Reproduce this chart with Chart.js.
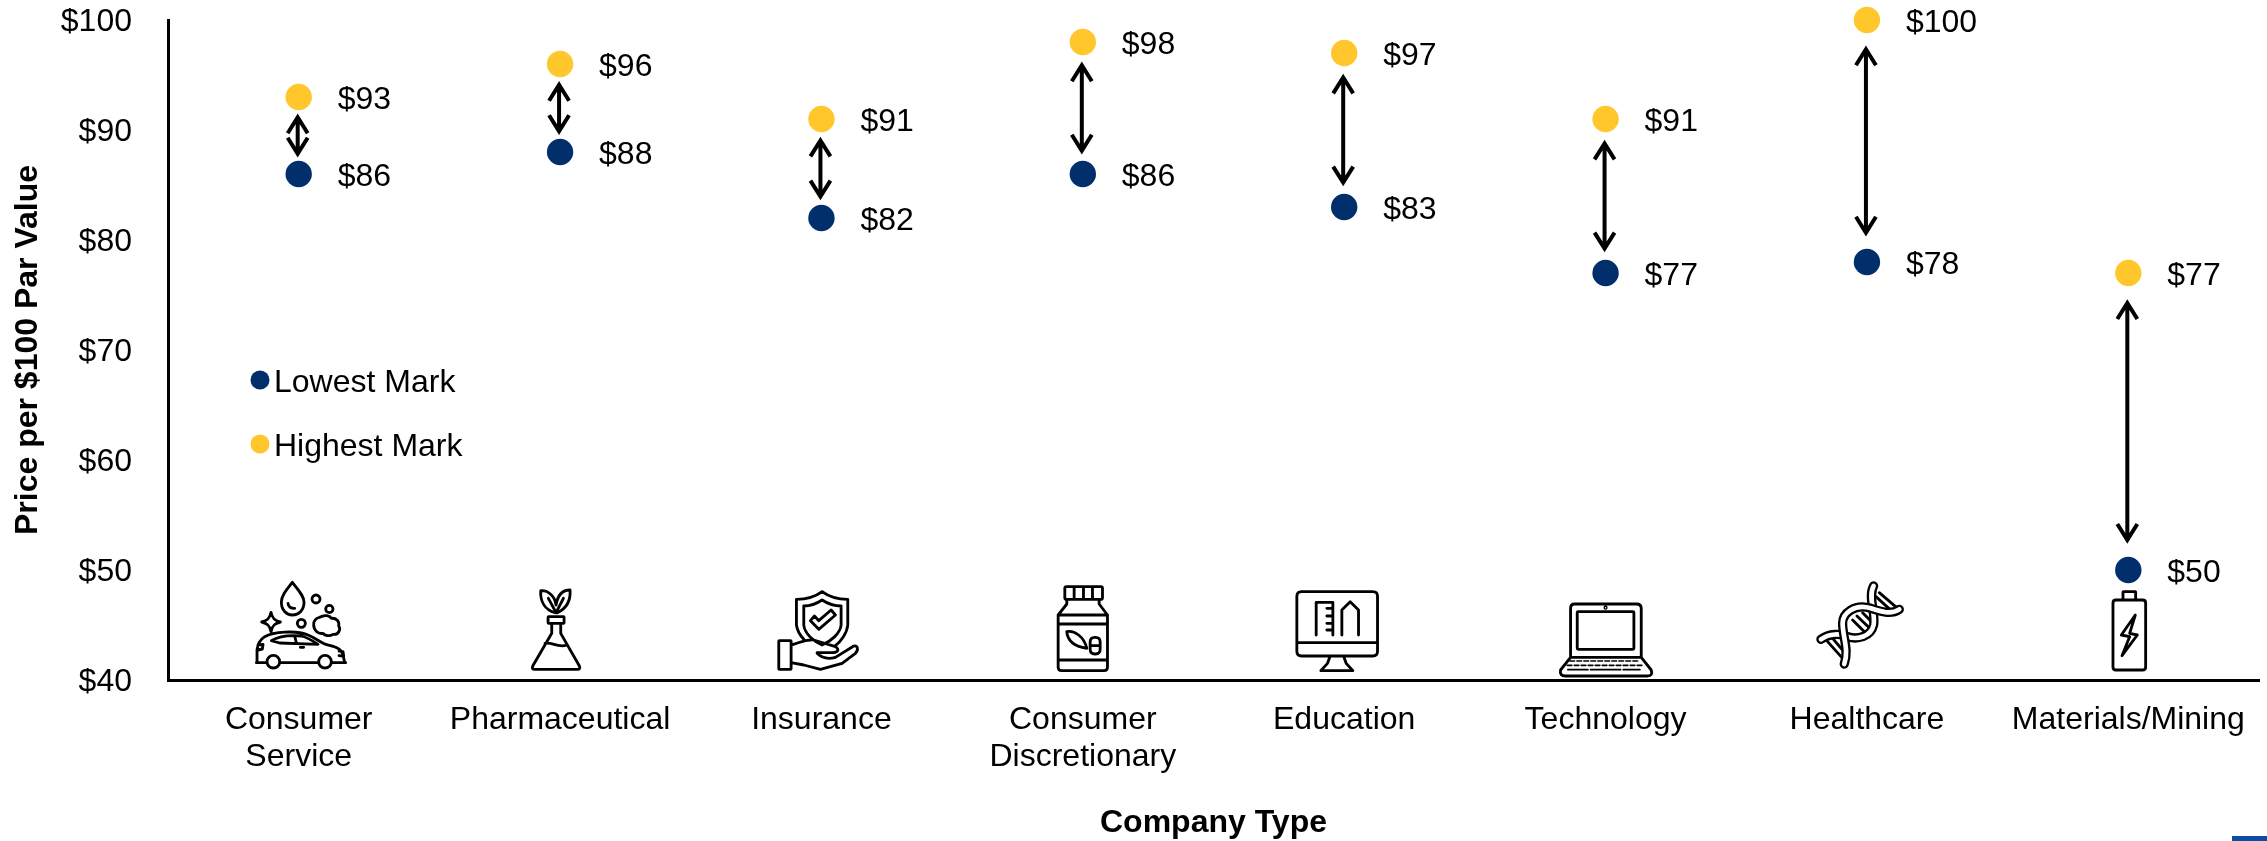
<!DOCTYPE html>
<html lang="en">
<head>
  <meta charset="UTF-8" />
  <title>Price per $100 Par Value by Company Type</title>
  <script src="https://cdn.jsdelivr.net/npm/chart.js"></script>
  <style>
    html, body { margin: 0; padding: 0; background: #fff; overflow: hidden; }
    canvas { display: block; }
    #cornerMark { position: absolute; left: 2232px; top: 836px; width: 35px; height: 5px; background: #0b4da2; }
  </style>
</head>
<body>
  <canvas id="rangeChart" width="2267" height="841"></canvas>
  <div id="cornerMark"></div>

  <script>
    const categories = [
      ['Consumer', 'Service'], 'Pharmaceutical', 'Insurance', ['Consumer', 'Discretionary'],
      'Education', 'Technology', 'Healthcare', 'Materials/Mining'
    ];
    const lowestMark = [86, 88, 82, 86, 83, 77, 78, 50];
    const highestMark = [93, 96, 91, 98, 97, 91, 100, 77];
    const yTicks = [40, 50, 60, 70, 80, 90, 100];

    const NAVY = '#002f6c';
    const GOLD = '#ffc72c';
    const FONT = '"Liberation Sans", Arial, sans-serif';

    function circle(x, y, r) {
      return `M${x + r} ${y}A${r} ${r} 0 1 0 ${x - r} ${y}A${r} ${r} 0 1 0 ${x + r} ${y}Z`;
    }
    function box(x1, y1, x2, y2, r) {
      return `M${x1 + r} ${y1}H${x2 - r}Q${x2} ${y1} ${x2} ${y1 + r}V${y2 - r}Q${x2} ${y2} ${x2 - r} ${y2}H${x1 + r}Q${x1} ${y2} ${x1} ${y2 - r}V${y1 + r}Q${x1} ${y1} ${x1 + r} ${y1}Z`;
    }

    // Pictograms under each category, one per company type. Paths are at 3x, offsets in chart px.
    const icons = [
      { dx: -59, dy: -105, layers: [{ d:
        'M158 22C140 45 125 62 125 82C125 105 140 120 158 120C178 120 193 105 193 82C193 62 175 45 158 22Z' +
        'M145 85C146 95 155 100 165 100' + circle(229, 72, 12) + circle(269, 102, 11) + circle(185, 145, 12) +
        'M94 112C97 130 105 137 122 141C105 145 97 152 94 170C91 152 83 145 66 141C83 137 91 130 94 112Z' +
        'M240 127C255 118 270 122 275 130C290 128 300 140 297 152C305 165 295 180 280 178C270 185 255 182 250 175C235 178 222 165 222 150C220 138 230 128 240 127Z' +
        'M52 258V225C54 205 60 195 75 185C100 170 170 165 205 180C225 188 240 200 255 207C280 213 305 218 310 240L314 258' +
        'M50 263H82M120 263H236M275 263H318' +
        'M95 197C115 185 150 180 185 183C205 188 220 198 235 208L120 204Z M165 183L170 204 M182 217H192' +
        'M55 210L70 208L68 222L55 225 M298 228L310 230L312 244L298 242' +
        circle(101, 260, 19) + circle(256, 260, 19) }] },
      { dx: -40, dy: -100, layers: [{ d:
        'M105 98C75 90 60 65 62 32C85 30 105 50 108 75C112 50 125 30 150 30C152 60 140 85 112 98' +
        'M85 55L108 98L130 55' + box(84, 110, 132, 130, 2) +
        'M95 130V160L38 258Q34 268 44 268H172Q182 268 178 258L122 160V130' +
        'M75 190C95 185 115 205 140 195' }] },
      { dx: -301, dy: -100, layers: [{ d:
        'M905 35C885 50 855 58 828 58V135C830 150 838 165 850 178M905 35C925 50 955 58 982 58V135C980 160 960 185 945 197' +
        'M905 60C890 70 870 78 850 78V135C852 160 880 185 905 195C930 185 960 160 962 135V78C940 78 920 70 905 60Z' +
        'M870 122L895 148L945 105L932 90L895 122L882 108Z' + box(775, 182, 812, 268, 2) +
        'M812 195C835 190 850 178 880 180L945 200C960 210 950 218 935 218H890' +
        'M890 220C905 235 925 238 945 232L1000 198C1012 195 1015 210 1005 220L965 250L900 268L850 255L812 248' }] },
      { dx: -42, dy: -100, layers: [{ d:
        box(72, 20, 185, 58, 5) + 'M100 20V58M128 20V58M155 20V58' +
        'M78 58V72L52 105V262Q52 272 62 272H190Q200 272 200 262V105L175 72V58' +
        'M52 105H200M52 132H200M52 240H200' +
        'M78 155C100 150 130 170 138 205C105 200 80 185 78 155Z' +
        box(148, 172, 178, 222, 14) + 'M148 197H178' }] },
      { dx: -304, dy: -100, layers: [{ d:
        box(770, 35, 1012, 228, 14) + 'M770 188H1012' +
        'M870 228L862 250L842 272H938L918 250L910 228' +
        'M828 165V67H878V165M860 85H878M860 108H878M860 130H878M860 150H878' +
        'M905 165V90L930 65L955 90V165' }] },
      { dx: -55, dy: -100, layers: [{ d:
        'M60 232V85Q60 72 72 72H258Q272 72 272 85V232' + box(80, 95, 250, 208, 3) + circle(165, 83, 2) +
        'M60 232L30 270Q26 288 45 288H290Q308 288 302 270L272 232Z' }, { width: 5, d:
        'M58 243' + 'h14m7 0'.repeat(10) + 'M50 256' + 'h14m7 0'.repeat(11) +
        'M52 269h60m8 0h90m8 0h50' }] },
      { dx: -316, dy: -100, layers: [
        { d: 'M905 120L950 165M918 108L962 150M935 98L972 135M975 50L1030 100M985 38L1040 85M830 185L875 235M845 175L885 222' },
        { width: 28, d: 'M968 18C950 50 975 100 968 135C960 170 920 180 890 170C870 160 835 160 810 178' },
        { width: 14, color: '#fff', d: 'M968 18C950 50 975 100 968 135C960 170 920 180 890 170C870 160 835 160 810 178' },
        { width: 28, d: 'M1045 88C1020 105 990 95 960 85C910 70 875 100 875 130C875 170 895 210 880 252' },
        { width: 14, color: '#fff', d: 'M1045 88C1020 105 990 95 960 85C910 70 875 100 875 130C875 170 895 210 880 252' }] },
      { dx: -327, dy: -140, layers: [{ d:
        box(965, 155, 1003, 180, 1) + box(935, 180, 1033, 390, 9) +
        'M1002 225L960 285L985 290L962 347L1008 285L985 280Z' }] }
    ];

    // Double-headed arrows between the two marks, plus value labels, pictograms and key
    const annotations = {
      id: 'annotations',
      afterDatasetsDraw(chart) {
        const { ctx, scales: { x, y } } = chart;
        ctx.save();

        ctx.strokeStyle = '#000';
        ctx.lineWidth = 4;
        ctx.lineJoin = 'miter';
        categories.forEach((c, i) => {
          const px = x.getPixelForValue(i) - 1;
          const gap = Math.min(26, 12 + 0.6 * (highestMark[i] - lowestMark[i]));
          const top = y.getPixelForValue(highestMark[i]) + gap + 4;
          const bottom = y.getPixelForValue(lowestMark[i]) - gap - 4;
          ctx.beginPath();
          ctx.moveTo(px, top);
          ctx.lineTo(px, bottom);
          ctx.moveTo(px - 10, top + 16);
          ctx.lineTo(px, top);
          ctx.lineTo(px + 10, top + 16);
          ctx.moveTo(px - 10, bottom - 16);
          ctx.lineTo(px, bottom);
          ctx.lineTo(px + 10, bottom - 16);
          ctx.stroke();
        });

        ctx.fillStyle = '#000';
        ctx.font = `32px ${FONT}`;
        ctx.textAlign = 'left';
        ctx.textBaseline = 'middle';
        categories.forEach((c, i) => {
          const px = x.getPixelForValue(i) + 39;
          ctx.fillText('$' + lowestMark[i], px, y.getPixelForValue(lowestMark[i]) + 3);
          ctx.fillText('$' + highestMark[i], px, y.getPixelForValue(highestMark[i]) + 3);
        });

        icons.forEach((icon, i) => {
          ctx.save();
          ctx.translate(x.getPixelForValue(i) + icon.dx, y.getPixelForValue(40) + icon.dy);
          ctx.scale(1 / 3, 1 / 3);
          ctx.lineJoin = 'round';
          ctx.lineCap = 'round';
          icon.layers.forEach(layer => {
            ctx.strokeStyle = layer.color || '#000';
            ctx.lineWidth = layer.width || 8.5;
            ctx.stroke(new Path2D(layer.d));
          });
          ctx.restore();
        });

        chart.data.datasets.forEach((ds, i) => {
          const ky = 380 + i * 64;
          ctx.fillStyle = ds.backgroundColor;
          ctx.beginPath();
          ctx.arc(260, ky, 9.5, 0, Math.PI * 2);
          ctx.fill();
          ctx.fillStyle = '#000';
          ctx.fillText(ds.label, 274, ky + 3);
        });

        ctx.restore();
      }
    };

    new Chart(document.getElementById('rangeChart'), {
      type: 'line',
      data: {
        labels: categories,
        datasets: [
          { label: 'Lowest Mark', data: lowestMark, backgroundColor: NAVY, pointBackgroundColor: NAVY },
          { label: 'Highest Mark', data: highestMark, backgroundColor: GOLD, pointBackgroundColor: GOLD }
        ].map(ds => ({ ...ds, showLine: false, pointRadius: 13.2, pointBorderWidth: 0, clip: false }))
      },
      options: {
        responsive: false,
        animation: false,
        layout: { autoPadding: false, padding: { top: 20, right: 8, left: 0, bottom: 0 } },
        plugins: { legend: { display: false }, tooltip: { enabled: false } },
        scales: {
          x: {
            type: 'category',
            offset: true,
            afterFit(scale) {
              scale.height = 161;
              scale.paddingLeft = scale.paddingRight = 0;
            },
            grid: { drawOnChartArea: false, drawTicks: false },
            border: { color: '#000', width: 3 },
            ticks: {
              color: '#000',
              font: { family: FONT, size: 32, lineHeight: 1.156 },
              padding: 22,
              maxRotation: 0,
              autoSkip: false
            },
            title: {
              display: true,
              text: 'Company Type',
              color: '#000',
              font: { family: FONT, size: 32, weight: 'bold', lineHeight: 1.1 },
              padding: { top: 0, bottom: 0 }
            }
          },
          y: {
            min: 40,
            max: 100,
            afterFit(scale) {
              scale.width = 168;
              scale.paddingTop = scale.paddingBottom = 0;
            },
            afterBuildTicks(scale) { scale.ticks = yTicks.map(value => ({ value })); },
            grid: { drawOnChartArea: false, drawTicks: false },
            border: { color: '#000', width: 3 },
            ticks: {
              color: '#000',
              font: { family: FONT, size: 32 },
              padding: 36,
              labelOffset: 2,
              callback: value => '$' + value
            },
            title: {
              display: true,
              text: 'Price per $100 Par Value',
              color: '#000',
              font: { family: FONT, size: 32, weight: 'bold', lineHeight: 1.2 },
              padding: { top: 9, bottom: 0 }
            }
          }
        }
      },
      plugins: [annotations]
    });
  </script>
</body>
</html>
